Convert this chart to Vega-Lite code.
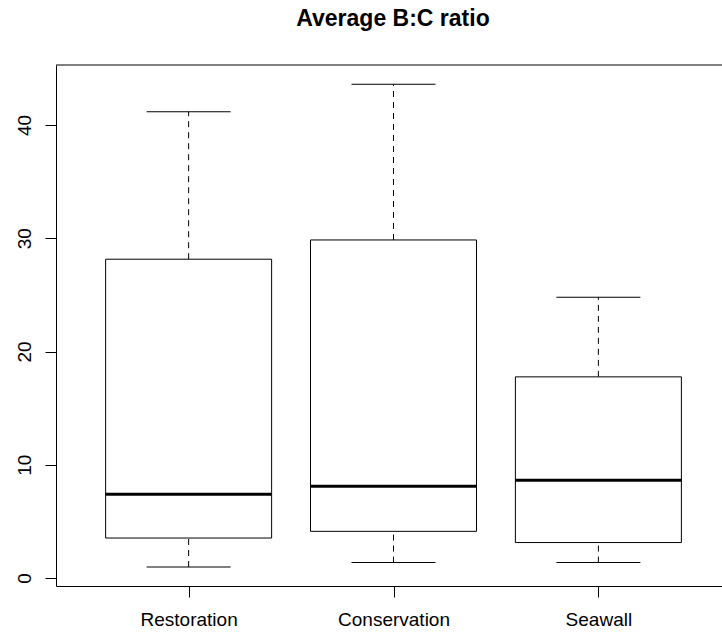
{
  "$schema": "https://vega.github.io/schema/vega-lite/v6.json",
  "autosize": {"type": "none"},
  "padding": {"left": 56, "top": 65, "right": 0, "bottom": 46},
  "width": 666,
  "height": 521,
  "background": "white",
  "config": {
    "view": {"stroke": null},
    "font": "Liberation Sans",
    "axis": {"grid": false, "domainColor": "#000000", "tickColor": "#000000", "labelColor": "#000000", "labelFont": "Liberation Sans", "labelFontSize": 19, "domainWidth": 1, "tickWidth": 1}
  },
  "title": {"text": "Average B:C ratio", "font": "Liberation Sans", "fontSize": 23, "fontWeight": "bold", "color": "#000000", "anchor": "middle", "dx": 4, "offset": 34},
  "data": {"values": [
    {"group": "Restoration", "pos": 1, "min": 0.97, "q1": 3.53, "median": 7.4, "q3": 28.15, "max": 41.17},
    {"group": "Conservation", "pos": 2, "min": 1.36, "q1": 4.12, "median": 8.1, "q3": 29.85, "max": 43.6},
    {"group": "Seawall", "pos": 3, "min": 1.36, "q1": 3.13, "median": 8.63, "q3": 17.76, "max": 24.8}
  ]},
  "layer": [
    {
      "mark": {"type": "rule", "color": "#000000", "strokeWidth": 1, "strokeDash": [6, 5]},
      "encoding": {
        "x": {"field": "pos", "type": "quantitative", "scale": {"domain": [0.377, 3.579], "nice": false, "zero": false},
          "axis": {"orient": "bottom", "title": null, "values": [1, 2, 3], "tickSize": 11, "labelPadding": 13, "labelExpr": "datum.value == 1 ? 'Restoration' : datum.value == 2 ? 'Conservation' : 'Seawall'", "labelFlush": false, "labelOverlap": false}},
        "y": {"field": "q3", "type": "quantitative", "scale": {"domain": [-0.707, 45.3], "nice": false, "zero": false},
          "axis": {"orient": "left", "title": null, "values": [0, 10, 20, 30, 40], "tickSize": 11, "labelPadding": 11, "labelAngle": -90, "labelAlign": "center", "labelBaseline": "bottom"}},
        "y2": {"field": "max"}
      }
    },
    {
      "mark": {"type": "rule", "color": "#000000", "strokeWidth": 1, "strokeDash": [6, 5]},
      "encoding": {
        "x": {"field": "pos", "type": "quantitative"},
        "y": {"field": "min", "type": "quantitative"},
        "y2": {"field": "q1"}
      }
    },
    {
      "mark": {"type": "tick", "orient": "horizontal", "color": "#000000", "size": 84, "thickness": 1, "opacity": 1},
      "encoding": {"x": {"field": "pos", "type": "quantitative"}, "y": {"field": "max", "type": "quantitative"}}
    },
    {
      "mark": {"type": "tick", "orient": "horizontal", "color": "#000000", "size": 84, "thickness": 1, "opacity": 1},
      "encoding": {"x": {"field": "pos", "type": "quantitative"}, "y": {"field": "min", "type": "quantitative"}}
    },
    {
      "mark": {"type": "bar", "fill": "#ffffff", "stroke": "#000000", "strokeWidth": 1, "width": 166},
      "encoding": {
        "x": {"field": "pos", "type": "quantitative"},
        "y": {"field": "q3", "type": "quantitative"},
        "y2": {"field": "q1"}
      }
    },
    {
      "mark": {"type": "tick", "orient": "horizontal", "color": "#000000", "size": 166, "thickness": 3, "opacity": 1},
      "encoding": {"x": {"field": "pos", "type": "quantitative"}, "y": {"field": "median", "type": "quantitative"}}
    },
    {
      "data": {"values": [{"top": 45.3}]},
      "mark": {"type": "rule", "color": "#000000", "strokeWidth": 1},
      "encoding": {"y": {"field": "top", "type": "quantitative"}}
    }
  ]
}
